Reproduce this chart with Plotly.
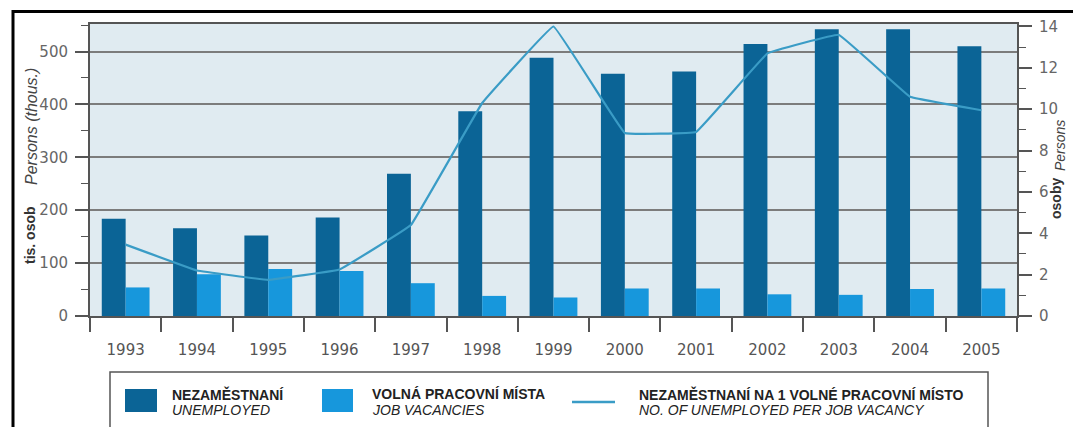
import plotly.graph_objects as go

years = ["1993", "1994", "1995", "1996", "1997", "1998", "1999",
         "2000", "2001", "2002", "2003", "2004", "2005"]
unemployed = [184, 166, 152, 186, 269, 387, 488, 458, 462, 514, 542, 542, 510]
vacancies = [54, 79, 89, 85, 62, 38, 35, 52, 52, 41, 40, 51, 52]
ratio = [3.45, 2.2, 1.75, 2.25, 4.4, 10.3, 14.0, 8.85, 8.9, 12.7, 13.6, 10.6, 9.95]

DARK = "#0b6496"
LIGHT = "#1797dc"
LINE = "#3a9cc6"
GRID = "#7c7c7c"
AX = "#555555"

L, R, T, B = 90, 1017, 24, 316
W, H = R - L, B - T


def px(x):
    return (x - L) / W


def py(y):
    return (B - y) / H


fig = go.Figure()
fig.add_trace(go.Bar(x=years, y=unemployed, name="NEZAMĚSTNANÍ", marker_color=DARK,
                     marker_line_width=0))
fig.add_trace(go.Bar(x=years, y=vacancies, name="VOLNÁ PRACOVNÍ MÍSTA", marker_color=LIGHT,
                     marker_line_width=0))
fig.add_trace(go.Scatter(x=years, y=ratio, yaxis="y2", mode="lines",
                         line=dict(color=LINE, width=2.2, shape="spline", smoothing=0.15),
                         name="NEZAMĚSTNANÍ NA 1 VOLNÉ PRACOVNÍ MÍSTO"))

tickfont = dict(family="DejaVu Sans", size=15, color="#666666")

fig.update_layout(
    width=1073, height=427,
    margin=dict(l=L, r=1073 - R, t=T, b=427 - B),
    paper_bgcolor="white",
    plot_bgcolor="#e0ebf1",
    showlegend=False,
    barmode="group",
    bargap=0.33,
    bargroupgap=0,
    xaxis=dict(
        type="category",
        showline=True, linecolor=AX, linewidth=2, mirror=True,
        ticks="outside", tickson="boundaries", ticklen=14, tickwidth=1.5, tickcolor=AX,
        tickfont=dict(family="DejaVu Sans", size=15, color="#555555"),
        ticklabelstandoff=19,
        showgrid=False,
    ),
    yaxis=dict(
        range=[0, 552],
        tickvals=[0, 100, 200, 300, 400, 500],
        showline=True, linecolor=AX, linewidth=2,
        ticks="outside", ticklen=13, tickwidth=1.5, tickcolor=AX,
        minor=dict(dtick=50, ticks="outside", ticklen=7, tickwidth=1.2, tickcolor=AX, showgrid=False),
        tickfont=tickfont,
        ticklabelstandoff=4,
        showgrid=True, gridcolor=GRID, gridwidth=1.5,
        zeroline=False,
    ),
    yaxis2=dict(
        range=[0, 14.12],
        overlaying="y", side="right",
        tickvals=[0, 2, 4, 6, 8, 10, 12, 14],
        showline=True, linecolor=AX, linewidth=2,
        ticks="outside", ticklen=13, tickwidth=1.5, tickcolor=AX,
        minor=dict(dtick=1, ticks="outside", ticklen=7, tickwidth=1.2, tickcolor=AX, showgrid=False),
        tickfont=tickfont,
        ticklabelstandoff=4,
        showgrid=False, zeroline=False,
    ),
)

shapes = []
# outer frame (top and left)
shapes.append(dict(type="line", xref="paper", yref="paper", x0=px(12), x1=px(1075),
                   y0=py(11.5), y1=py(11.5), line=dict(color="black", width=3)))
shapes.append(dict(type="line", xref="paper", yref="paper", x0=px(13), x1=px(13),
                   y0=py(10), y1=py(430), line=dict(color="black", width=3)))
# legend box
shapes.append(dict(type="rect", xref="paper", yref="paper", x0=px(110), x1=px(988),
                   y0=py(435), y1=py(372), line=dict(color=AX, width=1.5), fillcolor="white"))
# legend swatches
shapes.append(dict(type="rect", xref="paper", yref="paper", x0=px(125), x1=px(157),
                   y0=py(412), y1=py(389), line=dict(width=0), fillcolor=DARK))
shapes.append(dict(type="rect", xref="paper", yref="paper", x0=px(322), x1=px(353),
                   y0=py(412), y1=py(389), line=dict(width=0), fillcolor=LIGHT))
shapes.append(dict(type="line", xref="paper", yref="paper", x0=px(572), x1=px(615),
                   y0=py(402), y1=py(402), line=dict(color=LINE, width=2.5)))
fig.update_layout(shapes=shapes)

bold = dict(family="Liberation Sans", size=14, color="#222222")
ital = dict(family="Liberation Sans", size=14, color="#222222")
legend_items = [
    (170, "NEZAMĚSTNANÍ", "UNEMPLOYED"),
    (370, "VOLNÁ PRACOVNÍ MÍSTA", "JOB VACANCIES"),
    (637, "NEZAMĚSTNANÍ NA 1 VOLNÉ PRACOVNÍ MÍSTO", "NO. OF UNEMPLOYED PER JOB VACANCY"),
]
ann = []
for x, cz, en in legend_items:
    ann.append(dict(xref="paper", yref="paper", x=px(x), y=py(394), xanchor="left", yanchor="middle",
                    text="<b>" + cz + "</b>", showarrow=False, font=bold))
    ann.append(dict(xref="paper", yref="paper", x=px(x), y=py(410), xanchor="left", yanchor="middle",
                    text="<i>" + en + "</i>", showarrow=False, font=ital))

# axis titles
tb = dict(family="Liberation Sans", size=14, color="#333333")
ti = dict(family="Liberation Sans", size=16, color="#444444")
ti2 = dict(family="Liberation Sans", size=14, color="#444444")
ann.append(dict(xref="paper", yref="paper", x=px(30), y=py(235), xanchor="center", yanchor="middle",
                text="<b>tis. osob</b>", textangle=-90, showarrow=False, font=tb))
ann.append(dict(xref="paper", yref="paper", x=px(32), y=py(127), xanchor="center", yanchor="middle",
                text="<i>Persons (thous.)</i>", textangle=-90, showarrow=False, font=ti))
ann.append(dict(xref="paper", yref="paper", x=px(1056), y=py(199), xanchor="center", yanchor="middle",
                text="<b>osoby</b>", textangle=-90, showarrow=False, font=tb))
ann.append(dict(xref="paper", yref="paper", x=px(1060), y=py(146), xanchor="center", yanchor="middle",
                text="<i>Persons</i>", textangle=-90, showarrow=False, font=ti2))
fig.update_layout(annotations=ann)

fig.write_html("out.html")
